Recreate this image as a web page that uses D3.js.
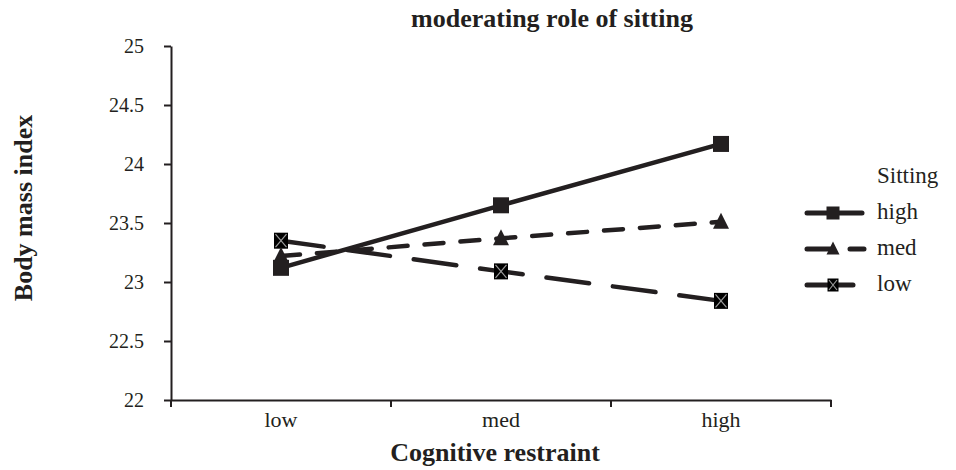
<!DOCTYPE html>
<html>
<head>
<meta charset="utf-8">
<script src="https://cdn.jsdelivr.net/npm/d3@7"></script>
<style>
  body { margin: 0; background: #fff; }
  text { font-family: "Liberation Serif", "DejaVu Serif", serif; fill: #231f20; }
</style>
</head>
<body>
<div id="chart"></div>
<script>
// categories and values
var categories = ["low", "med", "high"];
var highValues = [23.12, 23.65, 24.17];
var medValues = [23.22, 23.37, 23.51];
var lowValues = [23.35, 23.09, 22.84];
var yTicks = [22, 22.5, 23, 23.5, 24, 24.5, 25];

var width = 956, height = 470;
var ink = "#231f20";

var svg = d3.select("#chart").append("svg")
  .attr("width", width)
  .attr("height", height);

// plot area
var x = d3.scaleBand().domain(categories).range([171, 831]);
var y = d3.scaleLinear().domain([22, 25]).range([400, 46]);

// y axis
var yAxis = d3.axisLeft(y)
  .tickValues(yTicks)
  .tickFormat(function(d) { return String(d); })
  .tickSizeInner(7)
  .tickSizeOuter(0)
  .tickPadding(20);
var gy = svg.append("g").attr("transform", "translate(171,0)").call(yAxis);
gy.select(".domain").attr("stroke", ink).attr("stroke-width", 2);
gy.selectAll(".tick line").attr("stroke", ink).attr("stroke-width", 2);
gy.selectAll(".tick text").style("font-size", "20px").attr("fill", ink);

// x axis, ticks sit at the band edges
var xAxis = d3.axisBottom(x).tickSize(0).tickPadding(11);
var gx = svg.append("g").attr("transform", "translate(0,400)").call(xAxis);
gx.select(".domain").attr("stroke", ink).attr("stroke-width", 2);
gx.selectAll(".tick text").style("font-size", "22px").attr("fill", ink);
var edges = categories.map(function(c) { return x(c); }).concat([x.range()[1]]);
gx.selectAll(".edge").data(edges).enter().append("line")
  .attr("x1", function(d) { return d; })
  .attr("x2", function(d) { return d; })
  .attr("y1", 0).attr("y2", 7)
  .attr("stroke", ink).attr("stroke-width", 2);

function cx(c) { return x(c) + x.bandwidth() / 2; }

var series = [
  { name: "high", values: highValues, dash: null, marker: "square" },
  { name: "med", values: medValues, dash: "19,17", marker: "triangle" },
  { name: "low", values: lowValues, dash: "43,24", marker: "xbox" }
];

var line = d3.line()
  .x(function(d) { return cx(d.cat); })
  .y(function(d) { return y(d.v); });

function drawMarker(g, type, px, py, sz) {
  var h = sz / 2;
  if (type === "square") {
    g.append("rect").attr("x", px - h).attr("y", py - h)
      .attr("width", sz).attr("height", sz).attr("fill", ink);
  } else if (type === "triangle") {
    g.append("path")
      .attr("d", "M" + px + "," + (py - h - 1) + "L" + (px + h) + "," + (py + h - 1) + "L" + (px - h) + "," + (py + h - 1) + "Z")
      .attr("fill", ink);
  } else {
    var w = sz - 2;
    g.append("rect").attr("x", px - w / 2).attr("y", py - h)
      .attr("width", w).attr("height", sz).attr("fill", "#000");
    g.append("path")
      .attr("d", "M" + (px - w / 2 + 1.5) + "," + (py - h + 1.5) + "L" + (px + w / 2 - 1.5) + "," + (py + h - 1.5) +
        "M" + (px + w / 2 - 1.5) + "," + (py - h + 1.5) + "L" + (px - w / 2 + 1.5) + "," + (py + h - 1.5))
      .attr("stroke", "#9a9a9a").attr("stroke-width", 1.2);
  }
}

// draw order: low first, high on top
series.slice().reverse().forEach(function(s) {
  var pts = categories.map(function(c, i) { return { cat: c, v: s.values[i] }; });
  svg.append("path")
    .datum(pts)
    .attr("d", line)
    .attr("fill", "none")
    .attr("stroke", ink)
    .attr("stroke-width", 4.5)
    .attr("stroke-linecap", "round")
    .attr("stroke-dasharray", s.dash);
  var mg = svg.append("g");
  pts.forEach(function(p) { drawMarker(mg, s.marker, cx(p.cat), y(p.v), 16); });
});

// title and axis titles
svg.append("text")
  .attr("x", 552).attr("y", 27)
  .attr("text-anchor", "middle")
  .style("font-size", "26px").style("font-weight", "bold")
  .text("moderating role of sitting");

svg.append("text")
  .attr("x", 495).attr("y", 461)
  .attr("text-anchor", "middle")
  .style("font-size", "26px").style("font-weight", "bold")
  .text("Cognitive restraint");

svg.append("text")
  .attr("transform", "translate(32,208) rotate(-90)")
  .attr("text-anchor", "middle")
  .style("font-size", "26px").style("font-weight", "bold")
  .text("Body mass index");

// legend
var legend = svg.append("g");
legend.append("text").attr("x", 877).attr("y", 183)
  .style("font-size", "23px").text("Sitting");
var legendEnds = { high: 862, med: 864, low: 853 };
series.forEach(function(s, i) {
  var ly = 213 + i * 36;
  legend.append("line")
    .attr("x1", 807).attr("x2", legendEnds[s.name]).attr("y1", ly).attr("y2", ly)
    .attr("stroke", ink).attr("stroke-width", 5)
    .attr("stroke-linecap", "round")
    .attr("stroke-dasharray", s.name === "med" ? "23,20,14,99" : null);
  drawMarker(legend, s.marker, 833, ly, 13);
  legend.append("text").attr("x", 877).attr("y", ly + 6)
    .style("font-size", "23px").text(s.name);
});
</script>
</body>
</html>
